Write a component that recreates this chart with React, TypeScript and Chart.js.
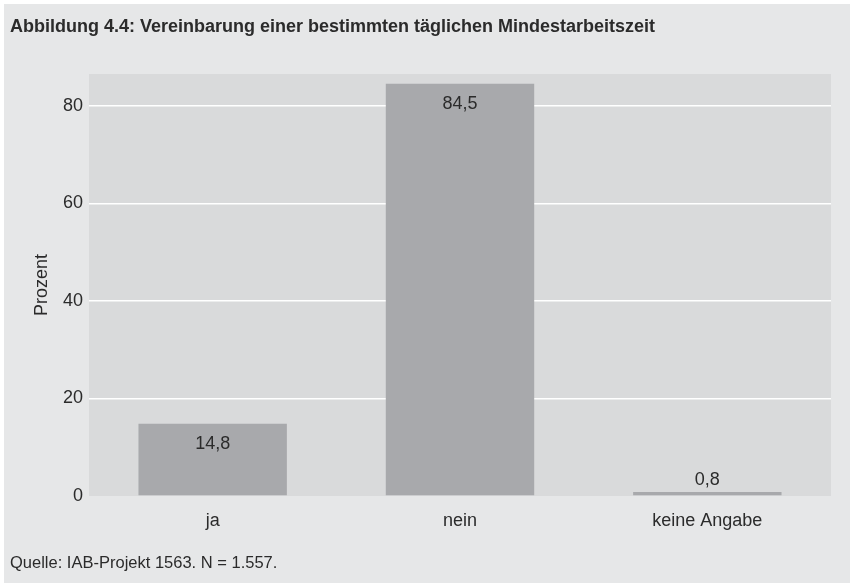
import React, { useEffect, useRef } from "react";
import { Chart, registerables } from "chart.js";

Chart.register(...registerables);

const TITLE = "Abbildung 4.4: Vereinbarung einer bestimmten täglichen Mindestarbeitszeit";
const SOURCE = "Quelle: IAB-Projekt 1563. N = 1.557.";
const Y_TITLE = "Prozent";
const categories = ["ja", "nein", "keine Angabe"];
const values = [14.8, 84.5, 0.8];
const yTicks = [0, 20, 40, 60, 80];
const Y_MAX = 86.5;

const OUTER_BG = "#e6e7e8";
const PLOT_BG = "#d9dadb";
const BAR = "#a8a9ac";
const TEXT = "#2b2b2b";
const SANS = "'Liberation Sans', Arial, sans-serif";

const decorPlugin = {
  id: "decor",
  beforeDraw(chart: any) {
    const { ctx, chartArea, width, height } = chart;
    ctx.save();
    ctx.fillStyle = "#ffffff";
    ctx.fillRect(0, 0, width, height);
    ctx.fillStyle = OUTER_BG;
    ctx.fillRect(4, 4, width - 4, height - 4);
    ctx.fillStyle = PLOT_BG;
    ctx.fillRect(chartArea.left, chartArea.top, chartArea.right - chartArea.left, chartArea.bottom - chartArea.top);
    ctx.fillStyle = TEXT;
    ctx.textBaseline = "middle";
    ctx.textAlign = "left";
    ctx.font = `bold 18px ${SANS}`;
    ctx.fillText(TITLE, 10, 27);
    ctx.font = `16.5px ${SANS}`;
    ctx.fillText(SOURCE, 10, 563);
    ctx.restore();
  },
  afterDatasetsDraw(chart: any) {
    const { ctx } = chart;
    const meta = chart.getDatasetMeta(0);
    ctx.save();
    ctx.fillStyle = TEXT;
    ctx.font = `18px ${SANS}`;
    ctx.textAlign = "center";
    ctx.textBaseline = "middle";
    meta.data.forEach((bar: any, i: number) => {
      const v = values[i];
      const label = v.toFixed(1).replace(".", ",");
      const h = bar.base - bar.y;
      const y = h > 40 ? bar.y + 20 : bar.y - 12;
      ctx.fillText(label, bar.x, y);
    });
    ctx.restore();
  },
};

export default function App() {
  const ref = useRef<HTMLCanvasElement>(null);
  useEffect(() => {
    if (!ref.current) return;
    const chart = new Chart(ref.current, {
      type: "bar",
      data: {
        labels: categories,
        datasets: [
          {
            data: values,
            backgroundColor: BAR,
            borderWidth: 0,
            barPercentage: 0.6,
            categoryPercentage: 1,
          },
        ],
      },
      options: {
        animation: false,
        responsive: false,
        maintainAspectRatio: false,
        layout: { padding: { left: 27, right: 19, top: 74, bottom: 47 } },
        plugins: { legend: { display: false }, tooltip: { enabled: false }, title: { display: false } },
        scales: {
          x: {
            grid: { display: false, drawTicks: false },
            border: { display: false },
            ticks: { color: TEXT, font: { family: SANS, size: 18 }, padding: 14 },
            afterFit: (s: any) => { s.height = 40; },
          },
          y: {
            min: 0,
            max: Y_MAX,
            afterBuildTicks: (s: any) => { s.ticks = yTicks.map((v) => ({ value: v })); },
            grid: {
              color: (c: any) => (c.tick && c.tick.value === 0 ? "rgba(0,0,0,0)" : "#ffffff"),
              lineWidth: 1.5,
              drawTicks: false,
            },
            border: { display: false },
            ticks: { color: TEXT, font: { family: SANS, size: 18 }, padding: 6 },
            title: { display: true, text: Y_TITLE, color: TEXT, font: { family: SANS, size: 18 } },
            afterFit: (s: any) => { s.width = 62; },
          },
        },
      },
      plugins: [decorPlugin],
    });
    return () => chart.destroy();
  }, []);
  return (
    <div style={{ position: "fixed", left: 0, top: 0, width: 850, height: 583 }}>
      <canvas ref={ref} width={850} height={583} style={{ width: 850, height: 583, display: "block" }} />
    </div>
  );
}
